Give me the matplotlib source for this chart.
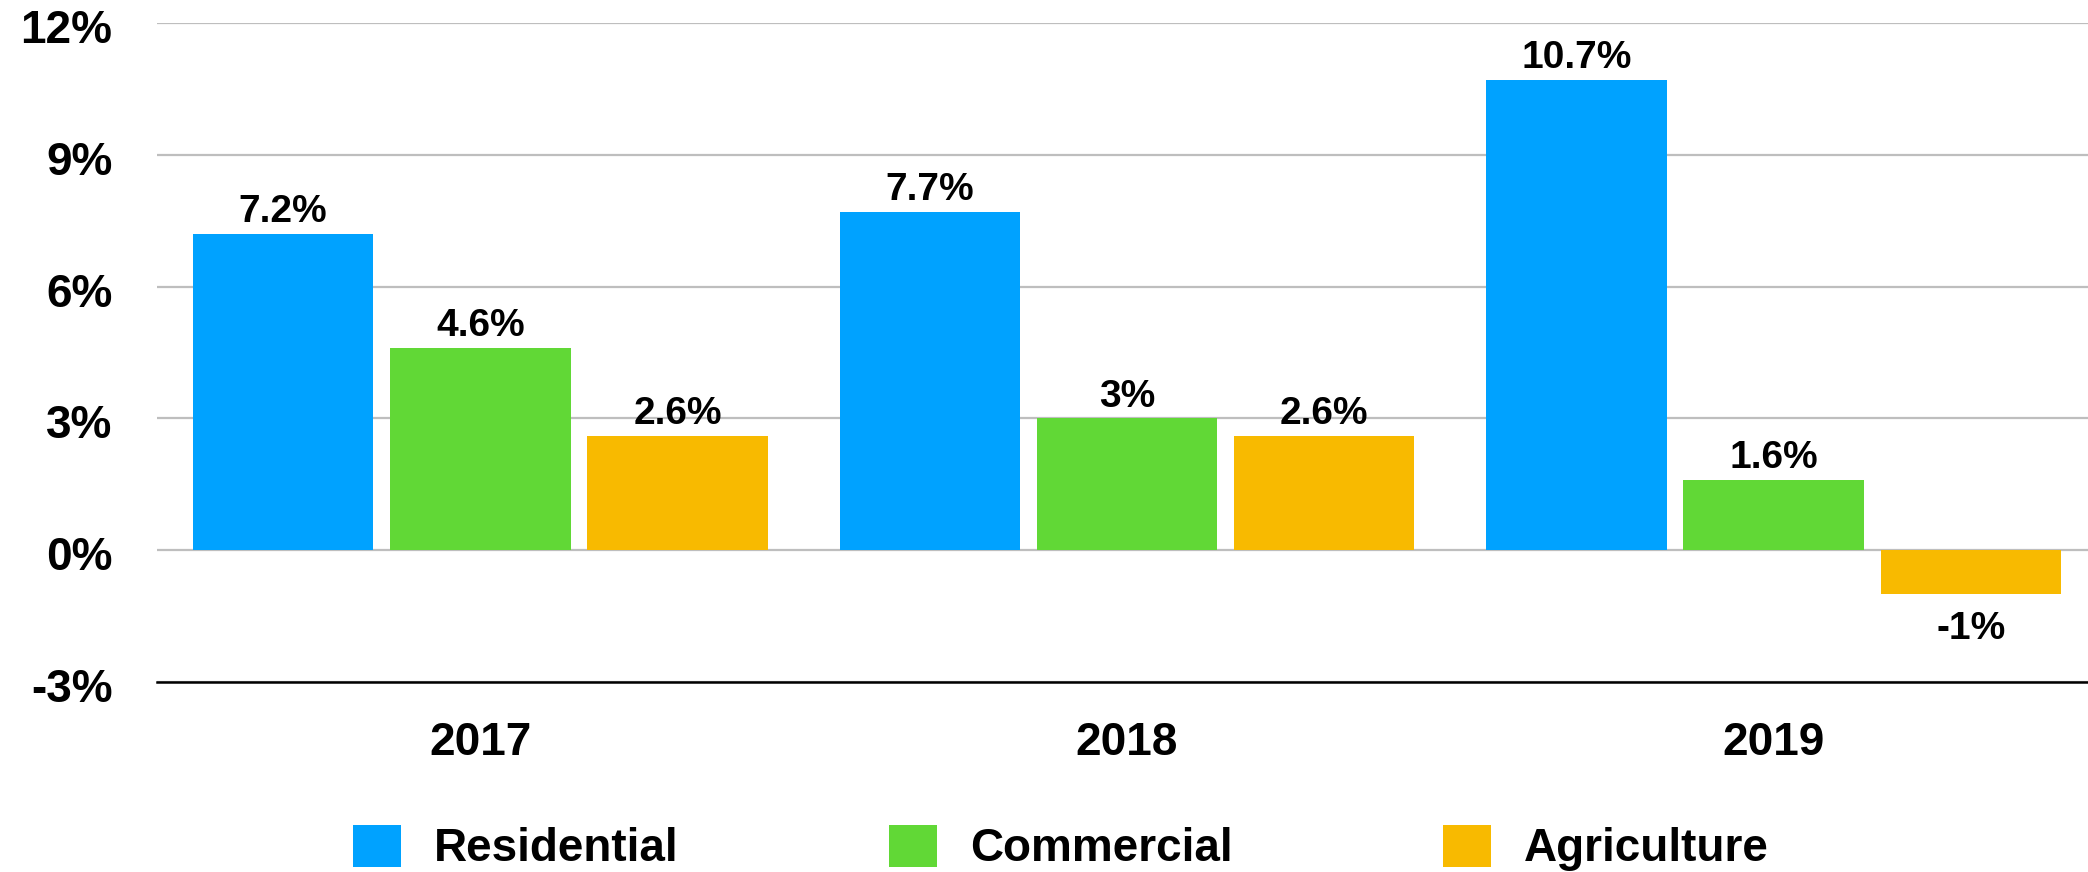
import numpy as np
import matplotlib
matplotlib.use("Agg")
import matplotlib.pyplot as plt
from matplotlib.transforms import ScaledTranslation

years = ["2017", "2018", "2019"]
series_names = ["Residential", "Commercial", "Agriculture"]
residential = [7.2, 7.7, 10.7]
commercial = [4.6, 3.0, 1.6]
agriculture = [2.6, 2.6, -1.0]
value_labels = [["7.2%", "7.7%", "10.7%"],
                ["4.6%", "3%", "1.6%"],
                ["2.6%", "2.6%", "-1%"]]
y_ticks = [-3, 0, 3, 6, 9, 12]

colors = ["#00A2FF", "#61D836", "#F8BA00"]

plt.rcParams['font.family'] = ['Liberation Sans', 'DejaVu Sans']
plt.rcParams['font.weight'] = 'bold'

W, H = 2088, 872
fig = plt.figure(figsize=(W / 100, H / 100), dpi=100)
# axes placed in pixel terms of the reference
left, right = 157, 2097
top, bottom = 23, 682
ax = fig.add_axes([left / W, 1 - bottom / H, (right - left) / W, (bottom - top) / H])

x = np.arange(len(years))
width = 0.279
step = 0.305
all_series = [residential, commercial, agriculture]
handles = []
for i, vals in enumerate(all_series):
    bars = ax.bar(x + (i - 1) * step, vals, width, color=colors[i],
                  label=series_names[i], zorder=3)
    handles.append(bars)
    for b, v, lab in zip(bars, vals, value_labels[i]):
        cx = b.get_x() + b.get_width() / 2
        if v >= 0:
            ax.annotate(lab, (cx, v), xytext=(0, 8.5), textcoords="offset points",
                        ha="center", va="baseline", fontsize=28, fontweight="bold", zorder=4)
        else:
            ax.annotate(lab, (cx, v), xytext=(0, -12), textcoords="offset points",
                        ha="center", va="top", fontsize=28, fontweight="bold", zorder=4)

ax.set_xlim(-0.5, 2.5)
ax.set_ylim(-3, 12)
ax.set_yticks(y_ticks)
ax.set_yticklabels([f"{t}%" for t in y_ticks])
ax.set_xticks(x)
ax.set_xticklabels(years)
ax.tick_params(axis="y", length=0, pad=32, labelsize=33)
ax.tick_params(axis="x", length=0, pad=28, labelsize=33)
# y labels sit a touch below their grid lines in the reference
shift = ScaledTranslation(0, -3 / 100, fig.dpi_scale_trans)
for lab in ax.get_yticklabels():
    lab.set_transform(lab.get_transform() + shift)

ax.grid(axis="y", color="#BEBEBE", linewidth=1.6, zorder=0)
for s in ["top", "right", "left"]:
    ax.spines[s].set_visible(False)
ax.spines["bottom"].set_color("black")
ax.spines["bottom"].set_linewidth(1.8)
ax.spines["bottom"].set_zorder(5)

fig.legend(handles=handles, labels=series_names, loc="center",
           bbox_to_anchor=(1061 / W, 1 - 848 / H), ncol=3, frameon=False,
           handlelength=1.04, handleheight=1.04,
           handletextpad=0.72, columnspacing=4.6, borderpad=0,
           prop={'weight': 'bold', 'size': 33})

fig.savefig("out.png", dpi=100)
